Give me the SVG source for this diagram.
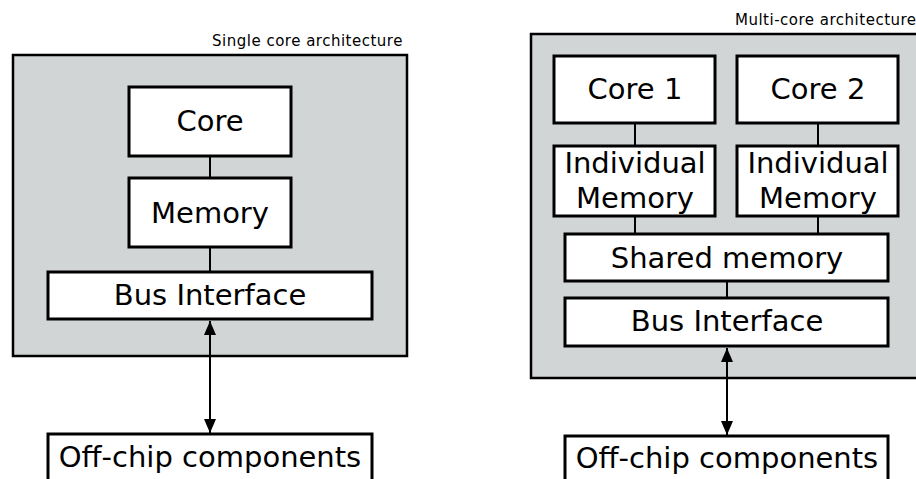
<svg xmlns="http://www.w3.org/2000/svg" width="916" height="479" viewBox="0 0 916 479">
<style>
.chip{fill:#d1d5d6;stroke:#000;stroke-width:2.5}
.box{fill:#fff;stroke:#000;stroke-width:3}
.t{font-family:"DejaVu Sans",Verdana,sans-serif;font-size:29px;text-anchor:middle;fill:#000}
.title{font-family:"DejaVu Sans",Verdana,sans-serif;font-size:15px;letter-spacing:0.5px;fill:#000}
.ln{stroke:#000;stroke-width:2;fill:none}
</style>
<defs>
<marker id="a" markerWidth="14" markerHeight="12" refX="14" refY="6" orient="auto-start-reverse" markerUnits="userSpaceOnUse">
<path d="M0,0 L14,6 L0,12 Z" fill="#000"/>
</marker>
</defs>
<g id="single-chip">
<rect class="chip" x="13" y="55" width="394" height="301"/>
<text class="title" x="212" y="46">Single core architecture</text>
</g>
<g id="multi-chip">
<rect class="chip" x="531" y="34" width="395" height="344"/>
<text class="title" x="735" y="25">Multi-core architecture</text>
</g>
<g id="connectors">
<line class="ln" x1="210" y1="156" x2="210" y2="178"/>
<line class="ln" x1="210" y1="247" x2="210" y2="272"/>
<line class="ln" x1="210" y1="321" x2="210" y2="433" marker-start="url(#a)" marker-end="url(#a)"/>
<line class="ln" x1="635" y1="123" x2="635" y2="146"/>
<line class="ln" x1="818" y1="123" x2="818" y2="146"/>
<line class="ln" x1="635" y1="216" x2="635" y2="234"/>
<line class="ln" x1="818" y1="216" x2="818" y2="234"/>
<line class="ln" x1="727" y1="281" x2="727" y2="298"/>
<line class="ln" x1="727" y1="348" x2="727" y2="435" marker-start="url(#a)" marker-end="url(#a)"/>
</g>
<g id="core">
<rect class="box" x="129" y="87" width="162" height="69"/>
<text class="t" x="210" y="131">Core</text>
</g>
<g id="memory">
<rect class="box" x="129" y="178" width="162" height="69"/>
<text class="t" x="210" y="223">Memory</text>
</g>
<g id="bus1">
<rect class="box" x="48" y="272" width="324" height="47"/>
<text class="t" x="210" y="305">Bus Interface</text>
</g>
<g id="offchip1">
<rect class="box" x="48" y="434" width="324" height="60"/>
<text class="t" x="210" y="467">Off-chip components</text>
</g>
<g id="core1">
<rect class="box" x="554" y="56" width="161" height="67"/>
<text class="t" x="635" y="99">Core 1</text>
</g>
<g id="core2">
<rect class="box" x="737" y="56" width="161" height="67"/>
<text class="t" x="818" y="99">Core 2</text>
</g>
<g id="imem1">
<rect class="box" x="554" y="146" width="161" height="70"/>
<text class="t" x="635" y="173">Individual</text>
<text class="t" x="635" y="208">Memory</text>
</g>
<g id="imem2">
<rect class="box" x="737" y="146" width="161" height="70"/>
<text class="t" x="818" y="173">Individual</text>
<text class="t" x="818" y="208">Memory</text>
</g>
<g id="shared">
<rect class="box" x="565" y="234" width="323" height="47"/>
<text class="t" x="727" y="268">Shared memory</text>
</g>
<g id="bus2">
<rect class="box" x="565" y="298" width="323" height="48"/>
<text class="t" x="727" y="331">Bus Interface</text>
</g>
<g id="offchip2">
<rect class="box" x="565" y="436" width="323" height="60"/>
<text class="t" x="727" y="468">Off-chip components</text>
</g>
</svg>
